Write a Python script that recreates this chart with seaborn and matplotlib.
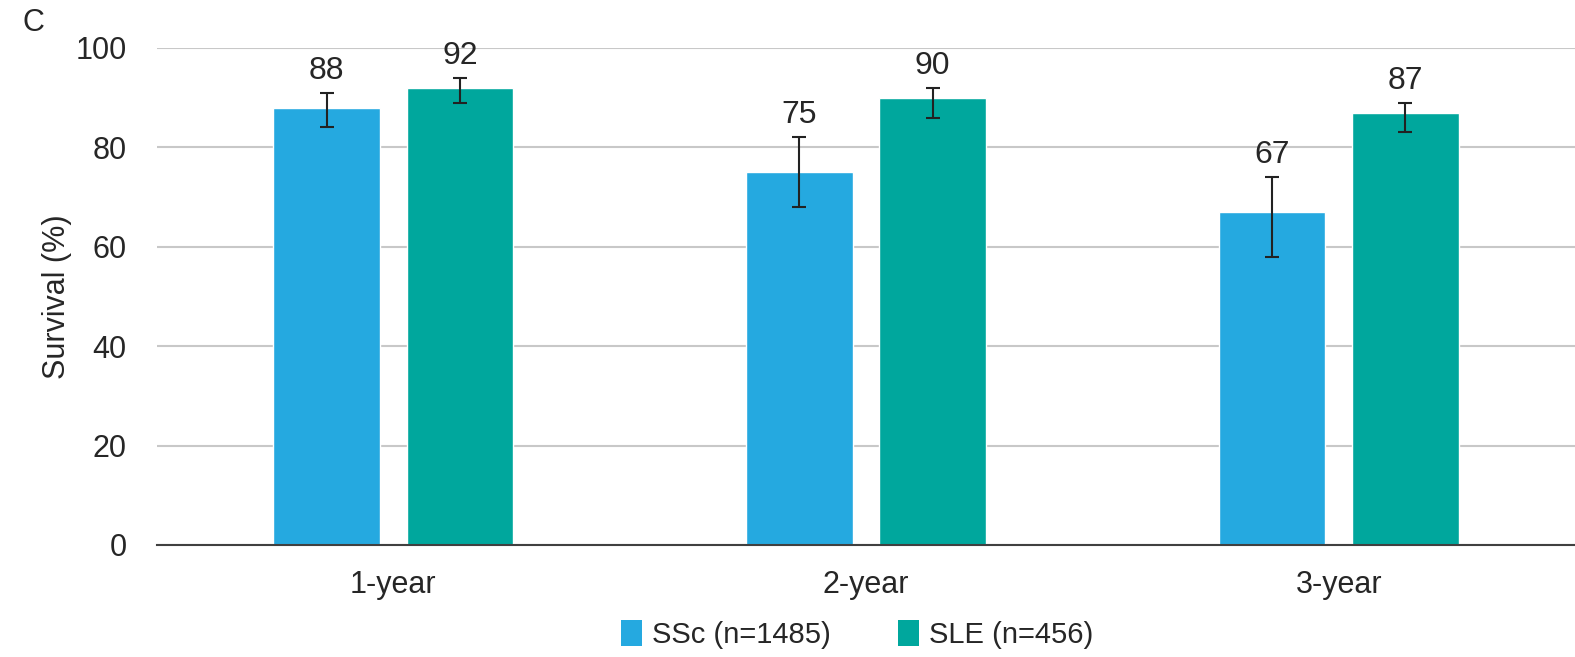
import matplotlib
matplotlib.use("Agg")
import matplotlib.pyplot as plt
from matplotlib.patches import Patch
import numpy as np
import pandas as pd
import seaborn as sns

# Survival estimates with 95% CI limits
periods = ["1-year", "2-year", "3-year"]
groups = ["SSc (n=1485)", "SLE (n=456)"]
ssc_survival = [88, 75, 67]
ssc_lower = [84, 68, 58]
ssc_upper = [91, 82, 74]
sle_survival = [92, 90, 87]
sle_lower = [89, 86, 83]
sle_upper = [94, 92, 89]
yticks = [0, 20, 40, 60, 80, 100]

colors = ["#25A9E0", "#00A79D"]
text_color = "#262626"

df = pd.DataFrame({
    "period": periods * 2,
    "group": [groups[0]] * 3 + [groups[1]] * 3,
    "survival": ssc_survival + sle_survival,
})

sns.set_theme(style="white")
plt.rcParams["font.family"] = ["Liberation Sans", "DejaVu Sans"]

fig = plt.figure(figsize=(15.75, 6.57), dpi=100)
ax = fig.add_axes([0.0997, 0.1705, 0.9003, 0.7565])

sns.barplot(data=df, x="period", y="survival", hue="group", order=periods,
            hue_order=groups, palette=colors, width=0.564, gap=0.2,
            saturation=1, legend=False, errorbar=None, ax=ax)

lows = [ssc_lower, sle_lower]
highs = [ssc_upper, sle_upper]
vals = [ssc_survival, sle_survival]
for cont, lo, hi, v in zip(ax.containers, lows, highs, vals):
    xs = [b.get_x() + b.get_width() / 2 for b in cont]
    v = np.array(v)
    lo = np.array(lo)
    hi = np.array(hi)
    ax.errorbar(xs, v, yerr=[v - lo, hi - v], fmt="none", ecolor="#222222",
                elinewidth=1.5, capsize=5, capthick=1.5, zorder=3)
    for x, h, val in zip(xs, hi, v):
        ax.annotate(f"{val}", (x, h), xytext=(0, 5), textcoords="offset points",
                    ha="center", va="bottom", fontsize=23, color=text_color)

ax.set_xlim(-0.5, 2.5)
ax.set_ylim(0, 100)
ax.set_yticks(yticks)
ax.yaxis.grid(True, color="#C8C8C8", linewidth=1.5)
ax.set_axisbelow(True)
for s in ["top", "right", "left"]:
    ax.spines[s].set_visible(False)
ax.spines["bottom"].set_color("#404040")
ax.spines["bottom"].set_linewidth(1.5)
ax.tick_params(axis="both", length=0, labelsize=22, colors=text_color)
ax.tick_params(axis="y", pad=22)
ax.tick_params(axis="x", pad=18)
ax.set_xlabel("")
ax.set_ylabel("Survival (%)", fontsize=22, color=text_color, labelpad=2)

handles = [Patch(facecolor=c, edgecolor="none") for c in colors]
fig.legend(handles, groups, loc="center", bbox_to_anchor=(0.544, 0.034), ncol=2,
           frameon=False, fontsize=21, handlelength=0.72, handleheight=0.95,
           handletextpad=0.35, columnspacing=2.3, labelcolor=text_color)

fig.text(0.014, 0.965, "C", fontsize=22, color=text_color, ha="left", va="center")

fig.savefig("out.png", dpi=100, facecolor="white")
